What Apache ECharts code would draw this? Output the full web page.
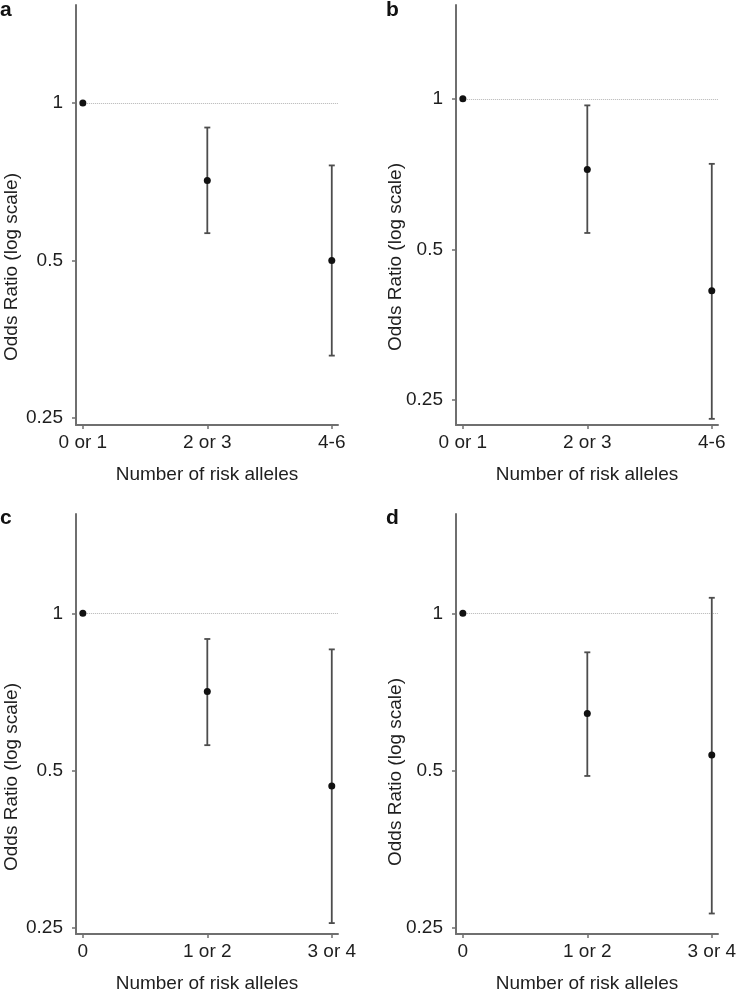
<!DOCTYPE html>
<html>
<head>
<meta charset="utf-8">
<script src="https://cdn.jsdelivr.net/npm/echarts@6/dist/echarts.min.js"></script>
<style>html,body{margin:0;padding:0;background:#fff}#chart{width:740px;height:996px}</style>
</head>
<body>
<div id="chart"></div>
<script>
// ---- data ----
const catsAB = ['0 or 1', '2 or 3', '4-6'];
const catsCD = ['0', '1 or 2', '3 or 4'];
const yTickValues = [0.25, 0.5, 1];
const yTickLabels = ['0.25', '0.5', '1'];

const orA = [1, 0.711, 0.50];
const loA = [null, 0.564, 0.329];
const hiA = [null, 0.898, 0.760];

const orB = [1, 0.722, 0.413];
const loB = [null, 0.539, 0.229];
const hiB = [null, 0.970, 0.741];

const orC = [1, 0.708, 0.467];
const loC = [null, 0.559, 0.255];
const hiC = [null, 0.893, 0.853];

const orD = [1, 0.643, 0.535];
const loD = [null, 0.488, 0.266];
const hiD = [null, 0.842, 1.071];

const panelLetters = ['a', 'b', 'c', 'd'];
const xTitle = 'Number of risk alleles';
const yTitle = 'Odds Ratio (log scale)';

// ---- layout ----
const FONT = 'Liberation Sans, Arial, Helvetica, sans-serif';
const TXT = '#1e1e1e';
const AX = '#6f6f6f';
const FS = 19;
const panels = [
  {cats: catsAB, or: orA, lo: loA, hi: hiA, grid: {left: 76, top: 5, width: 262, height: 420}, ymin: 0.2424, ymax: 1.54, letter: [0, 0], ytitle: [12, 267]},
  {cats: catsAB, or: orB, lo: loB, hi: hiB, grid: {left: 456, top: 5, width: 262, height: 420}, ymin: 0.2226, ymax: 1.54, letter: [386, 0], ytitle: [396, 257]},
  {cats: catsCD, or: orC, lo: loC, hi: hiC, grid: {left: 76, top: 514, width: 262, height: 420}, ymin: 0.243, ymax: 1.55, letter: [0, 508], ytitle: [12, 777]},
  {cats: catsCD, or: orD, lo: loD, hi: hiD, grid: {left: 456, top: 514, width: 262, height: 420}, ymin: 0.243, ymax: 1.55, letter: [386, 508], ytitle: [396, 772]}
];
const XMIN = -0.055, XMAX = 2.05;

const grid = [], xAxis = [], yAxis = [], series = [], graphic = [];
panels.forEach((p, i) => {
  grid.push(Object.assign({containLabel: false}, p.grid));
  xAxis.push({
    type: 'value', gridIndex: i, min: XMIN, max: XMAX,
    name: xTitle, nameLocation: 'middle', nameGap: 40,
    nameTextStyle: {fontFamily: FONT, fontSize: FS, color: TXT},
    axisLine: {show: true, onZero: false, lineStyle: {color: AX, width: 2}},
    axisTick: {show: true, length: 4, lineStyle: {color: AX, width: 1.5}, customValues: [0, 1, 2]},
    axisLabel: {show: true, margin: 8, fontFamily: FONT, fontSize: FS, color: TXT,
      customValues: [0, 1, 2], formatter: v => p.cats[Math.round(v)]},
    splitLine: {show: false}
  });
  yAxis.push({
    type: 'log', logBase: 2, gridIndex: i, min: p.ymin, max: p.ymax,
    axisLine: {show: true, onZero: false, lineStyle: {color: AX, width: 2}},
    axisTick: {show: true, length: 4, lineStyle: {color: AX, width: 1.5}, customValues: yTickValues},
    axisLabel: {show: true, margin: 13, fontFamily: FONT, fontSize: FS, color: TXT,
      customValues: yTickValues,
      formatter: v => { const k = yTickValues.findIndex(t => Math.abs(t - v) < 1e-6); return k >= 0 ? yTickLabels[k] : ''; }},
    splitLine: {show: false}
  });
  const errData = [];
  p.cats.forEach((c, k) => { if (p.lo[k] != null) errData.push([k, p.lo[k], p.hi[k]]); });
  series.push({
    type: 'custom', xAxisIndex: i, yAxisIndex: i, silent: true, z: 2,
    encode: {x: 0, y: [1, 2]},
    data: errData,
    renderItem: (params, api) => {
      const x = api.value(0);
      const a = api.coord([x, api.value(1)]);
      const b = api.coord([x, api.value(2)]);
      const w = 3;
      const st = {stroke: '#4d4d4d', lineWidth: 1.8};
      return {type: 'group', children: [
        {type: 'line', shape: {x1: a[0], y1: a[1], x2: b[0], y2: b[1]}, style: st},
        {type: 'line', shape: {x1: a[0] - w, y1: a[1], x2: a[0] + w, y2: a[1]}, style: st},
        {type: 'line', shape: {x1: b[0] - w, y1: b[1], x2: b[0] + w, y2: b[1]}, style: st}
      ]};
    },
    markLine: {
      silent: true, symbol: ['none', 'none'], label: {show: false}, z: 1,
      lineStyle: {color: '#b5b5b5', width: 1, type: 'dotted'},
      data: [[{coord: [0, 1]}, {coord: [XMAX, 1]}]]
    }
  });
  series.push({
    type: 'scatter', xAxisIndex: i, yAxisIndex: i, silent: true, z: 5,
    symbol: 'circle', symbolSize: 7,
    itemStyle: {color: '#111', opacity: 1},
    data: p.or.map((v, k) => [k, v])
  });
  graphic.push({
    type: 'text', left: p.letter[0], top: p.letter[1], silent: true,
    style: {text: panelLetters[i], font: 'bold 21px ' + FONT, fill: '#111'}
  });
  graphic.push({
    type: 'text', x: p.ytitle[0], y: p.ytitle[1], rotation: Math.PI / 2, silent: true,
    style: {text: yTitle, font: FS + 'px ' + FONT, fill: TXT, align: 'center', verticalAlign: 'middle'}
  });
});

const chart = echarts.init(document.getElementById('chart'), null, {renderer: 'canvas'});
chart.setOption({
  animation: false,
  backgroundColor: '#fff',
  grid, xAxis, yAxis, series, graphic
});
</script>
</body>
</html>
